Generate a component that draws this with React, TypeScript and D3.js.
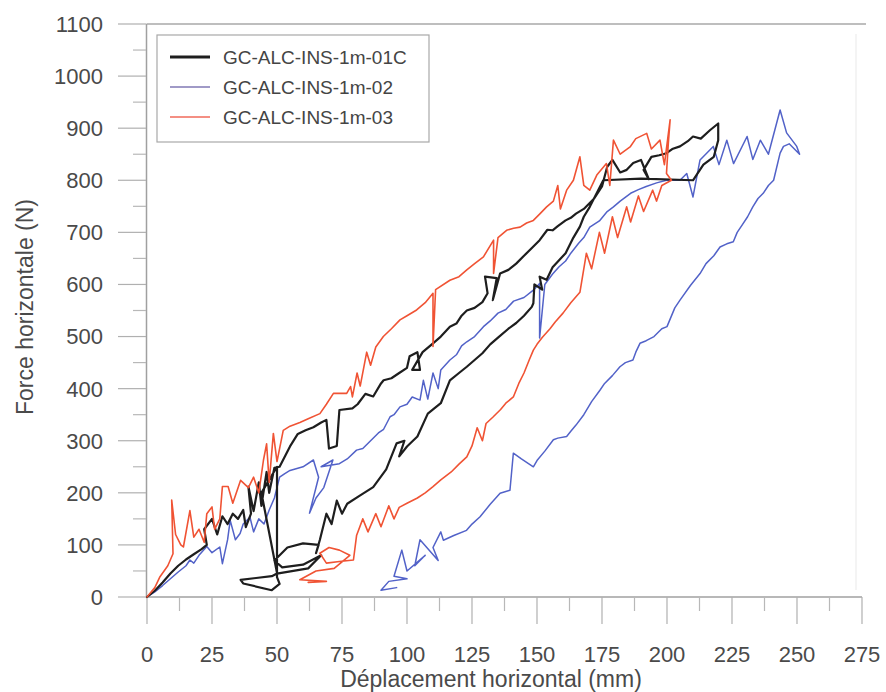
import React from "react";
import * as d3 from "d3";

// ---- Data (displacement mm, force N) ----
const series01C: [number, number][] = [
  [0,0],[3,12],[6,28],[9,45],[12,60],[15,72],[18,82],[21,92],[23,100],
  [22,130],[25,150],[27,120],[29,155],[31,140],[33,160],[35,150],[37,167],[38,134],[40,160],[39,212],[41,165],[43,220],[44,175],[46,240],[47,200],[49,248],[51,250],
  [55,289],[58,313],[61,320],[64,326],[67,335],[69,340],[70,285],[73,290],[74,359],[79,362],[81,370],[84,390],[87,385],[90,410],[91,416],[94,420],[97,430],[100,440],[101,462],[104,470],[105,436],[102,436],[106,470],[110,487],[113,500],[116.5,519],[119,525],[121,540],[123,550],[126,555],[129,566],[131,583],[130,615],[134.5,612],[133,570],[135.8,621],[139,628],[142,640],[145,655],[148.6,673],[151,685],[154,705],[156,704],[158,712],[161,723],[163,728],[165,736],[168,745],[170,755],[172,765],[175,788],[177,826],[179,839],[182,815],[184.5,820],[187,833],[190,839],[193,802],[191,820],[194,845],[197,848],[199.8,852],[202,860],[205,865],[208,875],[210,884],[213,880],[216.5,896],[219.7,909],
  [219.7,877],[218,845],[214,830],[210,800],[190,803],[175.5,800],
  [170.3,749],[168,730],[166.5,711],[164,690],[161,660],[156,633],[153.7,609],[151,615],[152,590],[149,600],[148.6,564],[148,557],[145,540],[142,526],[139,515],[135,498],[132,485],[129,468],[126,455],[123,442],[120,430],[116.5,416],[113,372],[108,352],[104,308],[100,289],[97,270],[99,300],[96,295],[92,245],[87,211],[82,195],[77,179],[75,160],[73,185],[71,140],[69,160],[67,120],[66.5,110],[65,84],
  [66,100],[60,103],[54,95],[49,70],[52,57],[60,62],[67,80],[62,55],[50,45],
  [48,40],[36,33],[37,26],[48,13],[51,25],[50,38],[50,250],[44,200],[50,46]
];

const series02: [number, number][] = [
  [0,0],[3,10],[6,22],[9,35],[12,48],[15,60],[16.5,71],[18,65],[20,80],[23,97],[25,85],[28,96],[29,64],[31,110],[32,147],[34,110],[35.8,122],[37,140],[39.6,153],[41,125],[43,150],[45,140],[47,167],[49,190],[51,230],[53,237],[55,243],
  [60,250],[64,263],[66,230],[62.5,161],[65,190],[68,210],[71.5,263],[67,250],[74,256],
  [77,265],[80.6,282],[83,285],[86,300],[89,315],[91,322],[93.5,346],[95,350],[97.3,365],[100,370],[102,384],[105,378],[106.3,416],[108,380],[110,430],[112,400],[113,436],[116.5,455],[119,465],[121,482],[123,490],[126,500],[129.4,519],[132,530],[135,545],[138,552],[141,568],[145,575],[148.6,589],[151,602],[151,497],[153,600],[156,620],[158.5,634],[161,645],[163,660],[166,679],[168,690],[170.3,710],[174,722],[177,740],[179.4,749],[182,760],[186,775],[189,782],[192,788],[196,795],[199.8,800],[205,800],
  [207.6,813],[210,768],[212.7,839],[217.8,865],[220,830],[223,877],[225.6,832],[230.8,884],[233,840],[235.9,877],[239,850],[243.5,935],[246,891],[249.9,865],[251,850],
  [247,870],[244.8,865],[243.5,852],[241,800],[239,790],[237,775],[235,765],[233,749],[231,730],[229,715],[227,700],[225.5,682],[223,678],[220.4,672],[218,655],[215,640],[212.7,621],[209,598],[205,570],[203,555],[200,519],[198,515],[195,500],[192,492],[189.6,487],[188,470],[186.9,455],[184,450],[181.9,442],[179,425],[176,410],[174.2,397],[171,375],[168,350],[165,330],[163,318],[161.4,308],[158,305],[156.3,302],[153,280],[150,262],[148.6,250],[144,265],[140.9,276],[139.6,205],[135.8,199],[132,178],[128.1,154],[125,140],[122.9,128],[118,118],[114,109],
  [113,125],[110,95],[112,70],[105,110],[103,60],[107,80],[100,50],[98,90],[95,40],[100,35],[93,30],[90,13],[96,18]
];

const series03: [number, number][] = [
  [0,0],[3,18],[5,39],[8,60],[10,83],[9.5,186],[11,120],[13,100],[14,96],[16.5,166],[18,115],[20,130],[22,105],[23,160],[25,173],[26,130],[28,150],[29,212],[31.2,212],[33,180],[36,224],[39,210],[41,230],[43,200],[44.8,263],[46,294],[47,220],[48.6,314],[50,260],[52.4,320],[55,328],[58.8,335],[62,342],[66.5,352],[69,370],[71.7,391],[76.8,391],[78.3,404],[79,384],[80.8,430],[82,405],[84.5,470],[86,445],[88,480],[90.9,500],[94,515],[97.3,532],[100,540],[103.7,551],[107,565],[110,583],[110,481],[111,590],[116.5,608],[120,615],[123,628],[126,640],[129.4,653],[133.3,685],[133.3,621],[135,690],[138.3,704],[141,708],[143.5,710],[146,718],[148.6,723],[151,735],[153.7,749],[156.3,760],[158,790],[159,745],[161.4,781],[164,800],[166.5,845],[168,790],[170.3,781],[173,810],[176.7,832],[178,790],[179.4,877],[182,850],[185.8,864],[188,880],[192.2,890],[194,860],[197.3,877],[199,830],[201.2,916],[200.5,870],[199.8,813],[201.7,800],
  [198,790],[196,760],[194.5,781],[191,740],[189,770],[186,720],[184.5,749],[181,690],[179,730],[176,660],[174,700],[171,630],[169,660],[166.5,585],[163,565],[160,545],[157,528],[155,515],[152,498],[150,485],[148.6,474],[147,455],[145,430],[143,410],[140.9,384],[138,372],[136,360],[133,345],[130.4,333],[129,300],[127,325],[125,290],[123,269],[120,255],[117,240],[113,225],[110,212],[107,200],[104,190],[100,180],[97,172],
  [95,150],[93,175],[90,135],[88,160],[85,125],[83,150],[80.6,118],
  [79.4,71],[74,68],[69,65],[66.5,84],[70,95],[74,90],[78,80],[72,55],[65,50],[58.8,33],[69,30],[62,28]
];

const legendLabels = ["GC-ALC-INS-1m-01C", "GC-ALC-INS-1m-02", "GC-ALC-INS-1m-03"];
const xTicks = [0, 25, 50, 75, 100, 125, 150, 175, 200, 225, 250, 275];
const yTicks = [0, 100, 200, 300, 400, 500, 600, 700, 800, 900, 1000, 1100];

const COLORS = ["#1e1e1e", "#5262c8", "#f05334"];
const WIDTHS = [2.2, 1.5, 1.6];
const FONT = "'Liberation Sans', Arial, Helvetica, sans-serif";

export default function App() {
  const x = d3.scaleLinear().domain([0, 275]).range([147, 862]);
  const y = d3.scaleLinear().domain([0, 1100]).range([597, 24]);
  const line = d3.line<[number, number]>().x(d => x(d[0])).y(d => y(d[1]));
  const xMinor = xTicks.slice(0, -1).map(t => t + 12.5);
  const yMinor = yTicks.slice(0, -1).map(t => t + 50);

  return (
    <svg width={886} height={692} style={{ position: "absolute", left: 0, top: 0, background: "#fff" }}>
      <rect width={886} height={692} fill="#fff" />
      {/* frame */}
      <line x1={146.5} x2={866} y1={24} y2={24} stroke="#a8a8a8" strokeWidth={1.5} />
      <line x1={146.5} x2={146.5} y1={24} y2={597} stroke="#a0a0a0" strokeWidth={1.5} />
      <line x1={146} x2={862} y1={597} y2={597} stroke="#a0a0a0" strokeWidth={1.5} />
      <line x1={856} x2={856} y1={34} y2={590} stroke="#f0f0f0" strokeWidth={1.5} />
      {/* y ticks */}
      {yTicks.map(t => (
        <line key={"yt" + t} x1={118} x2={146} y1={y(t)} y2={y(t)} stroke="#b0b0b0" strokeWidth={1.2} />
      ))}
      {yMinor.map(t => (
        <line key={"ym" + t} x1={133} x2={146} y1={y(t)} y2={y(t)} stroke="#b8b8b8" strokeWidth={1.2} />
      ))}
      {yTicks.map(t => (
        <text key={"yl" + t} x={103} y={y(t)} dy="0.36em" textAnchor="end" fontFamily={FONT} fontSize={22} fill="#4a4a4a">{t}</text>
      ))}
      {/* x ticks */}
      {xTicks.map(t => (
        <line key={"xt" + t} x1={x(t)} x2={x(t)} y1={597} y2={624} stroke="#b0b0b0" strokeWidth={1.2} />
      ))}
      {xMinor.map(t => (
        <line key={"xm" + t} x1={x(t)} x2={x(t)} y1={597} y2={611} stroke="#b8b8b8" strokeWidth={1.2} />
      ))}
      {xTicks.map(t => (
        <text key={"xl" + t} x={x(t)} y={662} textAnchor="middle" fontFamily={FONT} fontSize={22} fill="#4a4a4a">{t}</text>
      ))}
      {/* axis titles */}
      <text x={491} y={687} textAnchor="middle" fontFamily={FONT} fontSize={23} fill="#4a4a4a">Déplacement horizontal (mm)</text>
      <text transform="translate(33,307) rotate(-90)" textAnchor="middle" fontFamily={FONT} fontSize={23} fill="#4a4a4a">Force horizontale (N)</text>
      {/* series */}
      <g fill="none" strokeLinejoin="round" strokeLinecap="round">
        <path d={line(series02) || ""} stroke={COLORS[1]} strokeWidth={WIDTHS[1]} />
        <path d={line(series01C) || ""} stroke={COLORS[0]} strokeWidth={WIDTHS[0]} />
        <path d={line(series03) || ""} stroke={COLORS[2]} strokeWidth={WIDTHS[2]} />
      </g>
      {/* legend */}
      <rect x={157} y={35} width={272} height={107} fill="#fff" stroke="#a8a8a8" strokeWidth={1.2} />
      {legendLabels.map((lab, i) => (
        <g key={lab}>
          <line x1={170} x2={210} y1={57 + i * 30} y2={57 + i * 30} stroke={i === 1 ? "#8078b4" : i === 2 ? "#f06a5a" : COLORS[0]} strokeWidth={i === 0 ? 3 : 1.4} />
          <text x={223} y={57 + i * 30} dy="0.36em" fontFamily={FONT} fontSize={19} fill="#444">{lab}</text>
        </g>
      ))}
    </svg>
  );
}
